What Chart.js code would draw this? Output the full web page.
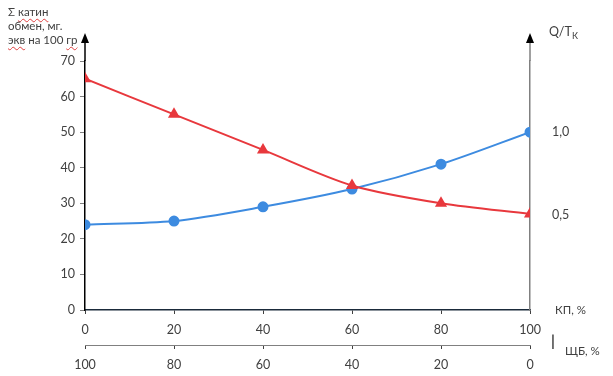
<!DOCTYPE html>
<html><head><meta charset="utf-8">
<script src="https://cdn.jsdelivr.net/npm/chart.js@4"></script>
<style>
html,body{margin:0;padding:0;background:#fff;}
#wrap{position:relative;width:613px;height:376px;}
canvas{position:absolute;left:0;top:0;}
.lbl{position:absolute;font-family:Lato,"Open Sans",sans-serif;font-size:12.5px;color:#404040;white-space:nowrap;line-height:14px;}
.t{font-size:11.5px;}
.sq{text-decoration:underline wavy #e04040;text-decoration-thickness:1px;text-underline-offset:2px;}
</style>
</head><body>
<div id="wrap">
<canvas id="c" width="613" height="376"></canvas>
<div class="lbl t" style="left:8px;top:5px;">Σ <span class="sq">катин</span></div>
<div class="lbl t" style="left:8px;top:19px;">обмен, мг.</div>
<div class="lbl t" style="left:8px;top:33px;"><span class="sq">экв</span> на 100 <span class="sq">гр</span></div>
<div class="lbl" style="left:549px;top:25px;">Q/T<span style="font-size:9px;vertical-align:-3px;">К</span></div>
<div class="lbl" style="left:555px;top:303px;font-size:11.5px;">КП, %</div>
<div class="lbl" style="left:551px;top:333px;font-size:15px;font-weight:bold;">|</div>
<div class="lbl" style="left:565px;top:344px;font-size:11.5px;">ЩБ, %</div>
</div>
<script>
const kpPercent = [0, 20, 40, 60, 80, 100];
const shbTicks = [100, 80, 60, 40, 20, 0];
const cationExchange = [24, 25, 29, 34, 41, 50];
const qtRatioScaled = [65, 55, 45, 35, 30, 27];
const rightTickValues = [0.5, 1.0];
const rightTickLabels = ['0,5', '1,0'];

const font = {family: 'Lato, "Open Sans", sans-serif', size: 12.5};
const textColor = '#404040';

const arrows = {
  id: 'arrows',
  afterDraw(chart) {
    const ctx = chart.ctx, a = chart.chartArea;
    const draw = (x, lineColor) => {
      ctx.save();
      ctx.strokeStyle = lineColor; ctx.lineWidth = 1.5;
      ctx.beginPath(); ctx.moveTo(x, a.top); ctx.lineTo(x, 42); ctx.stroke();
      ctx.fillStyle = '#000';
      ctx.beginPath(); ctx.moveTo(x, 33); ctx.lineTo(x - 4, 43); ctx.lineTo(x + 4, 43); ctx.closePath(); ctx.fill();
      ctx.restore();
    };
    draw(a.left, '#000');
    draw(a.right, '#808080');
  }
};

new Chart(document.getElementById('c'), {
  type: 'line',
  data: {
    datasets: [
      {
        data: kpPercent.map((x, i) => ({x, y: qtRatioScaled[i]})),
        borderColor: '#e8383d', backgroundColor: '#e8383d',
        borderWidth: 2, pointStyle: 'triangle', pointRadius: 5, tension: 0.3,
        xAxisID: 'x', yAxisID: 'y'
      },
      {
        data: kpPercent.map((x, i) => ({x, y: cationExchange[i]})),
        borderColor: '#3d8be0', backgroundColor: '#3d8be0',
        borderWidth: 2, pointStyle: 'circle', pointRadius: 4.5, tension: 0.3,
        xAxisID: 'x', yAxisID: 'y'
      }
    ]
  },
  options: {
    responsive: false, animation: false,
    layout: {padding: {top: 61, left: 0, right: 0, bottom: 0}},
    plugins: {legend: {display: false}, tooltip: {enabled: false}},
    scales: {
      x: {
        type: 'linear', position: 'bottom', min: 0, max: 100,
        afterBuildTicks(s) { s.ticks = kpPercent.map(v => ({value: v})); },
        afterFit(s) { s.height = 35; },
        border: {display: true, color: '#1a2a3a', width: 1.5},
        grid: {display: true, drawOnChartArea: false, drawTicks: true, tickLength: 4, color: '#404040'},
        ticks: {font, color: textColor, padding: 8, maxRotation: 0}
      },
      x2: {
        type: 'linear', position: 'bottom', min: 0, max: 100, reverse: true,
        afterBuildTicks(s) { s.ticks = shbTicks.map(v => ({value: v})); },
        afterFit(s) { s.height = 31; },
        border: {display: true, color: '#808080', width: 1},
        grid: {display: true, drawOnChartArea: false, drawTicks: true, tickLength: 4, color: '#404040'},
        ticks: {font, color: textColor, padding: 8, maxRotation: 0}
      },
      y: {
        position: 'left', min: 0, max: 70,
        afterBuildTicks(s) { s.ticks = [0,10,20,30,40,50,60,70].map(v => ({value: v})); },
        afterFit(s) { s.width = 85; },
        border: {display: true, color: '#000', width: 1.5},
        grid: {display: true, drawOnChartArea: false, drawTicks: true, tickLength: 5, color: '#808080'},
        ticks: {font, color: textColor, padding: 5}
      },
      y2: {
        position: 'right', min: -0.073, max: 1.429,
        afterBuildTicks(s) { s.ticks = rightTickValues.map(v => ({value: v})); },
        afterFit(s) { s.width = 83; },
        border: {display: true, color: '#808080', width: 1.5},
        grid: {display: false, drawOnChartArea: false, drawTicks: false},
        ticks: {font, color: textColor, padding: 22, callback: (v) => rightTickLabels[rightTickValues.indexOf(v)] ?? ''}
      }
    }
  },
  plugins: [arrows]
});
</script>
</body></html>
